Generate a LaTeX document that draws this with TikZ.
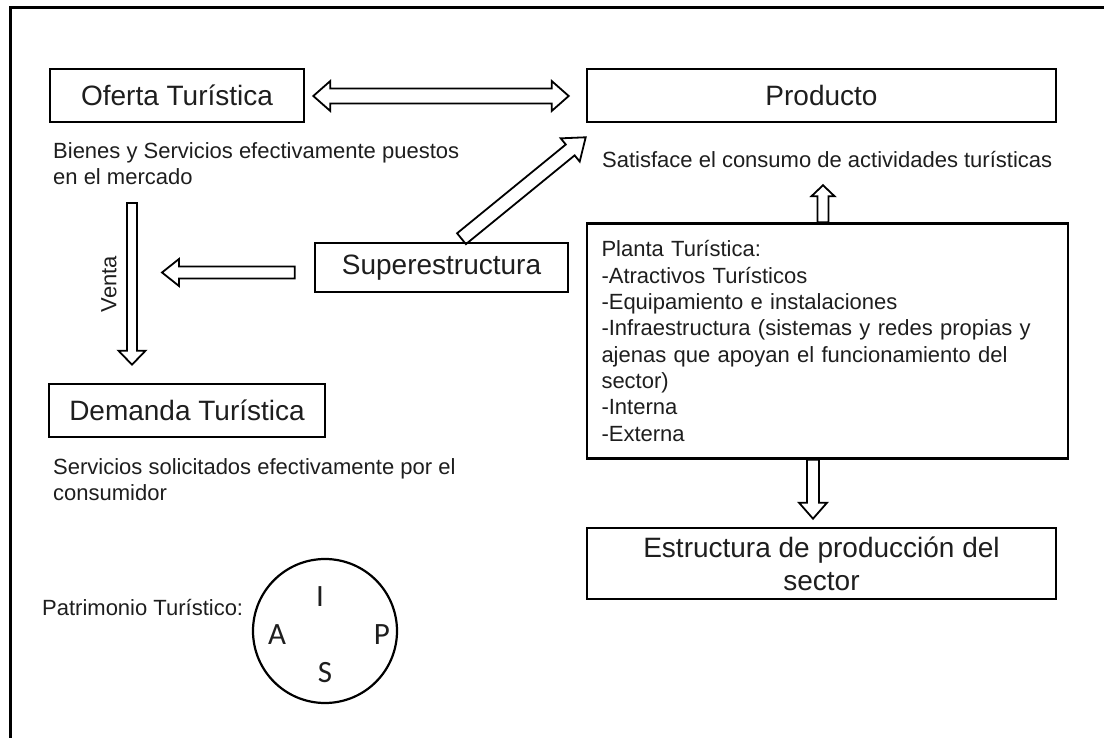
\documentclass[tikz,border=0pt]{standalone}
\usepackage{fontspec}
\setmainfont{Liberation Sans}
\newfontfamily\letterfont{Carlito}
\usetikzlibrary{calc}
\definecolor{ink}{RGB}{30,30,30}

% hollow block arrow: start, tip, shaft half width, head half width, head length
\newcommand\hollowarrow[5]{%
  \coordinate (ha-h) at ($(#2)!#5!(#1)$);
  \draw[blockarrow] ($(#1)!#3!90:(#2)$) -- ($(ha-h)!#3!90:(#2)$) -- ($(ha-h)!#4!90:(#2)$) -- (#2)
    -- ($(ha-h)!#4!-90:(#2)$) -- ($(ha-h)!#3!-90:(#2)$) -- ($(#1)!#3!-90:(#2)$) -- cycle;}
% hollow double-headed block arrow: tip A, tip B, shaft half width, head half width, head length
\newcommand\hollowdouble[5]{%
  \coordinate (hd-a) at ($(#1)!#5!(#2)$);
  \coordinate (hd-b) at ($(#2)!#5!(#1)$);
  \draw[blockarrow] (#1) -- ($(hd-a)!#4!90:(#2)$) -- ($(hd-a)!#3!90:(#2)$) -- ($(hd-b)!#3!90:(#2)$)
    -- ($(hd-b)!#4!90:(#2)$) -- (#2) -- ($(hd-b)!#4!-90:(#2)$) -- ($(hd-b)!#3!-90:(#2)$)
    -- ($(hd-a)!#3!-90:(#2)$) -- ($(hd-a)!#4!-90:(#2)$) -- cycle;}

\begin{document}
\begin{tikzpicture}[x=1pt,y=-1pt,
  tbox/.style={draw=black, line width=2.6pt, inner sep=0pt, text=ink, align=center,
               font=\fontsize{28}{33}\selectfont},
  desc/.style={inner sep=0pt, text=ink, align=left, font=\fontsize{22}{26}\selectfont},
  letter/.style={inner sep=0pt, text=ink, font=\letterfont\fontsize{31}{36}\selectfont},
  blockarrow/.style={draw=black, line width=1.8pt, line join=miter}]
\useasboundingbox (0,0) rectangle (1104,738);
\fill[white] (0,0) rectangle (1104,738);
% outer frame (cropped at right and bottom)
\draw[line width=3pt, black] (10,745) -- (10,8) -- (1110,8);

% boxes
\node[tbox, minimum width=254pt, minimum height=53pt] (oferta) at (177,95.5) {Oferta Turística};
\node[tbox, minimum width=469pt, minimum height=53pt] (producto) at (821.5,95.5) {Producto};
\node[tbox, minimum width=253pt, minimum height=49pt] (sup) at (441.5,267.5) {Superestructura};
\node[tbox, minimum width=276pt, minimum height=53pt] (demanda) at (187,410.5) {Demanda Turística};
\node[draw=black, line width=2.6pt, minimum width=481pt, minimum height=235pt, text width=452pt,
      inner sep=0pt, align=left, text=ink, font=\fontsize{22}{26.3}\selectfont] (planta) at (827.5,341)
  {Planta Turística:\\-Atractivos Turísticos\\-Equipamiento e instalaciones\\-Infraestructura (sistemas y redes propias y\\ajenas que apoyan el funcionamiento del\\sector)\\-Interna\\-Externa};
\node[tbox, minimum width=469pt, minimum height=71pt] (estr) at (821.5,563.5) {Estructura de producción del\\sector};

% descriptions (base anchor = baseline of last line)
\node[desc, anchor=base west] (ofertad) at (53,185) {Bienes y Servicios efectivamente puestos\\en el mercado};
\node[desc, anchor=base west] (productod) at (602,168) {Satisface el consumo de actividades turísticas};
\node[desc, anchor=base west] (demandad) at (53,500) {Servicios solicitados efectivamente por el\\consumidor};
\node[desc, anchor=base west] (patr) at (42,615) {Patrimonio Turístico:};
\node[desc, rotate=90] (venta) at (109,284) {Venta};

% circle
\node[draw=black, circle, line width=2.2pt, minimum size=144pt, inner sep=0pt] (circ) at (325,631) {};
\node[letter] (li) at (320,597) {I};
\node[letter] (la) at (277,635) {A};
\node[letter] (lp) at (382,635) {P};
\node[letter] (ls) at (325,673) {S};

% arrows
\coordinate (dA) at ($(oferta.east)+(8,0.5)$);
\coordinate (dB) at ($(producto.west)+(-17,0.5)$);
\hollowdouble{dA}{dB}{7.5pt}{15pt}{17pt}

\coordinate (g1) at ($(sup.north)+(20,-3)$);
\coordinate (g2) at ($(producto.south west)+(0,14)$);
\hollowarrow{g1}{g2}{7pt}{15pt}{20pt}

\coordinate (l1) at ($(sup.west)+(-19,5)$);
\coordinate (l2) at (162,272.5);
\hollowarrow{l1}{l2}{6pt}{13.5pt}{17pt}

\coordinate (v1) at (132,203);
\coordinate (v2) at ($(demanda.north -| v1)+(0,-18)$);
\hollowarrow{v1}{v2}{5pt}{13.5pt}{14pt}

\coordinate (u1) at ($(planta.north)+(-4.5,0)$);
\coordinate (u2) at ($(planta.north)+(-4.5,-37)$);
\hollowarrow{u1}{u2}{5.5pt}{11.5pt}{11pt}

\coordinate (d1) at ($(planta.south)+(-14.5,0)$);
\coordinate (d2) at ($(estr.north)+(-8.5,-8)$);
\hollowarrow{d1}{d2}{6pt}{14pt}{16pt}
\end{tikzpicture}
\end{document}
